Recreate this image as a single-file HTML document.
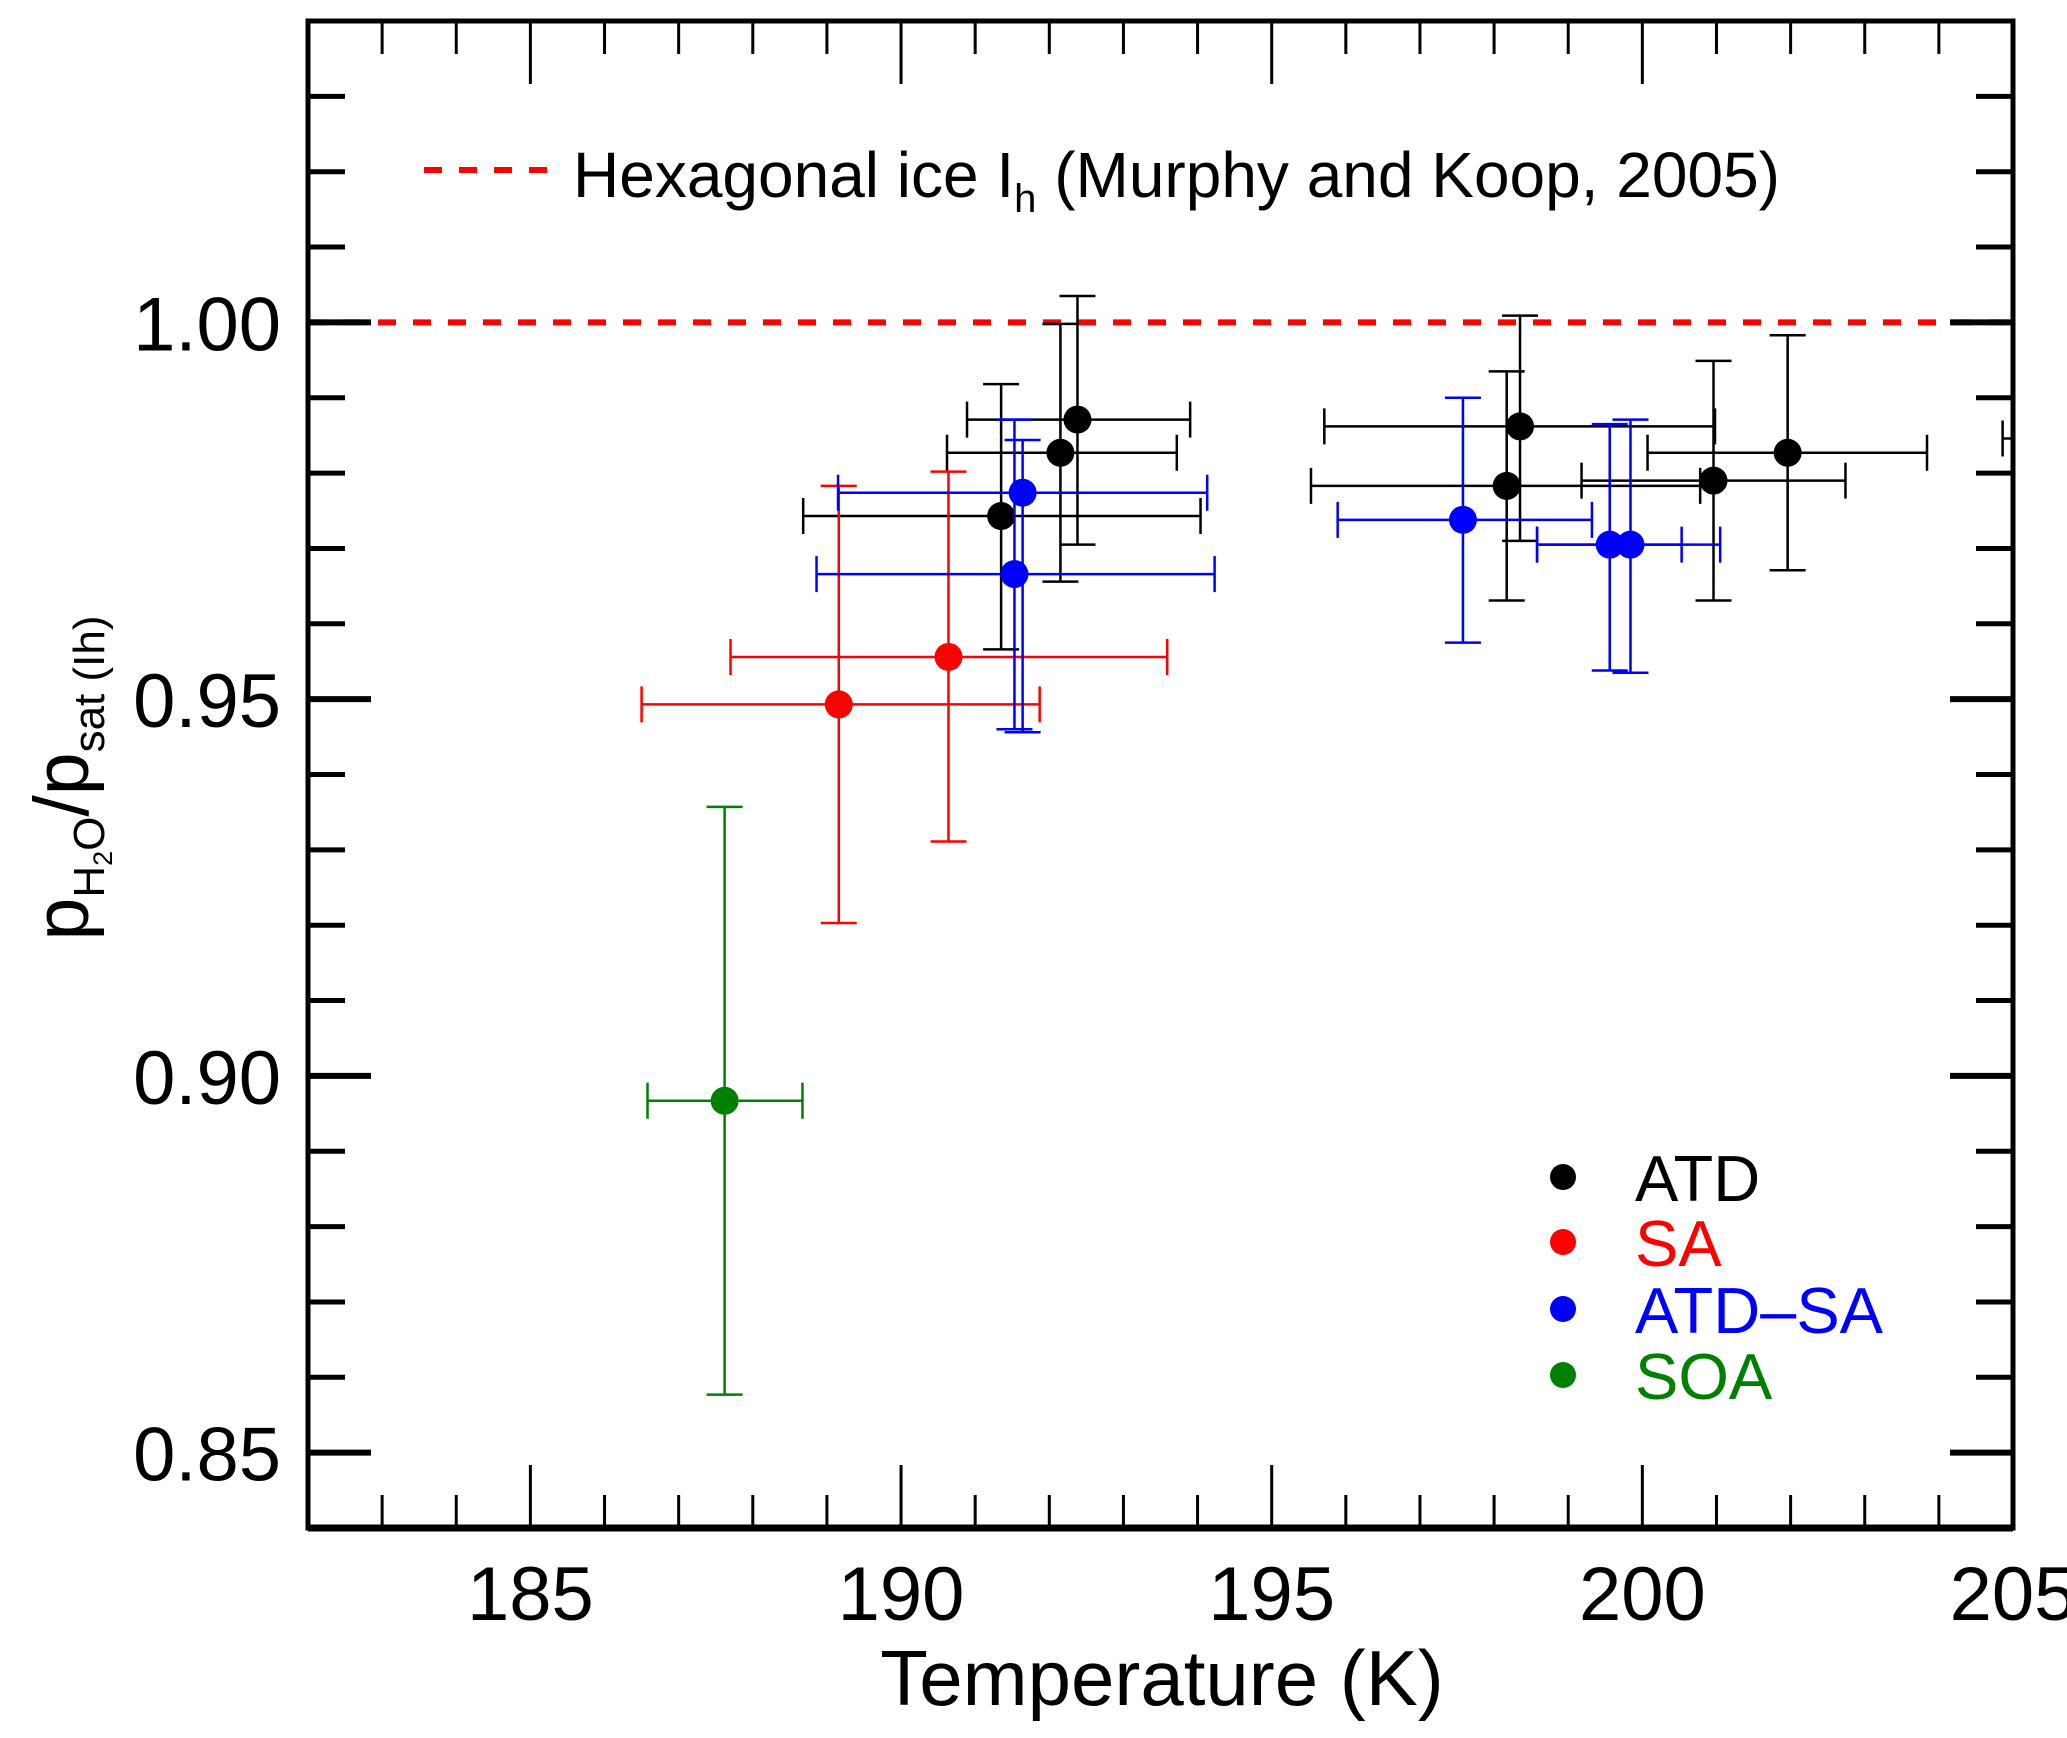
<!DOCTYPE html>
<html><head><meta charset="utf-8"><style>
html,body{margin:0;padding:0;background:#fff;}
svg{display:block;font-family:"Liberation Sans",Arial,sans-serif;}
</style></head><body>
<svg id="chart" width="2067" height="1738" viewBox="0 0 2067 1738" xmlns="http://www.w3.org/2000/svg">
<defs><clipPath id="plotclip"><rect x="308" y="21" width="1705" height="1507"/></clipPath></defs>
<g id="marks" clip-path="url(#plotclip)"></g>
<g id="axes"></g>
<g>
  <line x1="424" y1="170" x2="548" y2="170" stroke="#ff0000" stroke-width="6" stroke-dasharray="18,17"/>
  <text x="573" y="197" font-size="64" fill="#000">Hexagonal ice I<tspan font-size="40" dy="15">h</tspan><tspan dy="-15"> (Murphy and Koop, 2005)</tspan></text>
  <circle cx="1563" cy="1177" r="13" fill="#000"/>
  <text x="1635" y="1201" font-size="65" fill="#000">ATD</text>
  <circle cx="1563" cy="1242" r="13" fill="#ff0000"/>
  <text x="1635" y="1266" font-size="65" fill="#ff0000">SA</text>
  <circle cx="1563" cy="1309" r="13" fill="#0000ff"/>
  <text x="1635" y="1333" font-size="65" fill="#0000ff">ATD–SA</text>
  <circle cx="1563" cy="1375" r="13" fill="#008000"/>
  <text x="1635" y="1399" font-size="65" fill="#008000">SOA</text>
</g>
<text x="1162" y="1705" font-size="78" text-anchor="middle">Temperature (K)</text>
<text transform="translate(88,778) rotate(-90)" font-size="77" text-anchor="middle">p<tspan font-size="44" dy="16">H<tspan font-size="27" dy="8">2</tspan><tspan dy="-8">O</tspan></tspan><tspan dy="-16">/p</tspan><tspan font-size="44" dy="16">sat (Ih)</tspan></text>
</svg>
<script>
var xMin = 182, xMax = 205, yMin = 0.84, yMax = 1.04;
var xTicks = [185, 190, 195, 200, 205];
var xTickLabels = ["185", "190", "195", "200", "205"];
var yTicks = [0.85, 0.90, 0.95, 1.00];
var yTickLabels = ["0.85", "0.90", "0.95", "1.00"];
var iceLine = 1.00;

var atdT    = [191.35, 192.15, 192.38, 198.17, 198.35, 200.96, 201.96, 207.0];
var atdY    = [0.9743, 0.9827, 0.9871, 0.9783, 0.9862, 0.9790, 0.9827, 0.9846];
var atdTlo  = [188.68, 190.62, 190.89, 195.53, 195.71, 199.18, 200.07, 204.86];
var atdThi  = [194.04, 193.72, 193.90, 200.78, 200.98, 202.74, 203.84, 209.0];
var atdYlo  = [0.9566, 0.9656, 0.9705, 0.9631, 0.9710, 0.9631, 0.9671, 0.9800];
var atdYhi  = [0.9918, 0.9998, 1.0035, 0.9935, 1.0009, 0.9949, 0.9983, 0.9890];

var saT   = [189.16, 190.64];
var saY   = [0.9493, 0.9556];
var saTlo = [186.50, 187.70];
var saThi = [191.87, 193.59];
var saYlo = [0.9203, 0.9311];
var saYhi = [0.9783, 0.9802];

var atdsaT   = [191.64, 191.53, 197.58, 199.56, 199.84];
var atdsaY   = [0.9774, 0.9666, 0.9738, 0.9705, 0.9705];
var atdsaTlo = [189.15, 188.86, 195.89, 198.58, 198.58];
var atdsaThi = [194.13, 194.23, 199.32, 200.53, 201.05];
var atdsaYlo = [0.9456, 0.9460, 0.9575, 0.9538, 0.9535];
var atdsaYhi = [0.9844, 0.9871, 0.9900, 0.9865, 0.9871];

var soaT   = [187.62];
var soaY   = [0.8967];
var soaTlo = [186.58];
var soaThi = [188.67];
var soaYlo = [0.8577];
var soaYhi = [0.9357];

var L = 308, R = 2013, T = 21, B = 1528;
function xs(v){ return L + (v - xMin) / (xMax - xMin) * (R - L); }
function ys(v){ return B - (v - yMin) / (yMax - yMin) * (B - T); }
var NS = "http://www.w3.org/2000/svg";
function mk(tag, attrs, parent){
  var e = document.createElementNS(NS, tag);
  for (var k in attrs) e.setAttribute(k, attrs[k]);
  parent.appendChild(e); return e;
}
var marks = document.getElementById('marks');
var axes = document.getElementById('axes');

var ice = mk('line', {x1: L, x2: R, y1: ys(iceLine), y2: ys(iceLine), stroke: '#ff0000', 'stroke-width': 6, 'stroke-dasharray': '18,17'}, marks);



function series(name, color, Tv, Yv, Tlo, Thi, Ylo, Yhi){
  var g = mk('g', {}, marks);
  
  
  var c = 18;
  for (var i = 0; i < Tv.length; i++){
    var x = xs(Tv[i]), y = ys(Yv[i]);
    var st = {stroke: color, 'stroke-width': 2.5, fill: 'none'};
    var eb = mk('path', Object.assign({d:
      'M' + xs(Tlo[i]) + ' ' + y + 'H' + xs(Thi[i]) +
      'M' + xs(Tlo[i]) + ' ' + (y - c) + 'V' + (y + c) +
      'M' + xs(Thi[i]) + ' ' + (y - c) + 'V' + (y + c) +
      'M' + x + ' ' + ys(Ylo[i]) + 'V' + ys(Yhi[i]) +
      'M' + (x - c) + ' ' + ys(Ylo[i]) + 'H' + (x + c) +
      'M' + (x - c) + ' ' + ys(Yhi[i]) + 'H' + (x + c)}, st), g);
    
    
    var p = mk('circle', {cx: x, cy: y, r: 14, fill: color}, g);
    
    
  }
}
series('atd', '#000000', atdT, atdY, atdTlo, atdThi, atdYlo, atdYhi);
series('sa', '#ff0000', saT, saY, saTlo, saThi, saYlo, saYhi);
series('atd-sa', '#0000ff', atdsaT, atdsaY, atdsaTlo, atdsaThi, atdsaYlo, atdsaYhi);
series('soa', '#008000', soaT, soaY, soaTlo, soaThi, soaYlo, soaYhi);

var fr = mk('path', {d: 'M' + L + ' ' + T + 'H' + R + 'V' + B + 'H' + L + 'Z', fill: 'none', stroke: '#000', 'stroke-width': 5}, axes);


var bx = mk('line', {x1: L, x2: R, y1: B, y2: B, stroke: '#000', 'stroke-width': 7}, axes);



for (var t = Math.ceil(xMin); t <= xMax; t++){
  var major = (t % 5 === 0);
  var len = major ? 63 : 33;
  var x = xs(t);
  var tk = mk('path', {d: 'M' + x + ' ' + B + 'V' + (B - len) + 'M' + x + ' ' + T + 'V' + (T + len), stroke: '#000', 'stroke-width': 3}, axes);
  
  
}
xTicks.forEach(function(v, i){
  var tx = mk('text', {x: xs(v), y: 1620, 'font-size': 76, 'text-anchor': 'middle'}, axes);
  tx.textContent = xTickLabels[i];
  
  
});
for (var k = 85; k <= 103; k++){
  var v = k / 100;
  var major = (k % 5 === 0);
  var len = major ? 63 : 37;
  var y = ys(v);
  var tk = mk('path', {d: 'M' + L + ' ' + y + 'H' + (L + len) + 'M' + R + ' ' + y + 'H' + (R - len), stroke: '#000', 'stroke-width': major ? 6 : 5}, axes);
  
  
}
yTicks.forEach(function(v, i){
  var tx = mk('text', {x: 281, y: ys(v) + 28, 'font-size': 76, 'text-anchor': 'end'}, axes);
  tx.textContent = yTickLabels[i];
  
  
});
</script>
</body></html>
